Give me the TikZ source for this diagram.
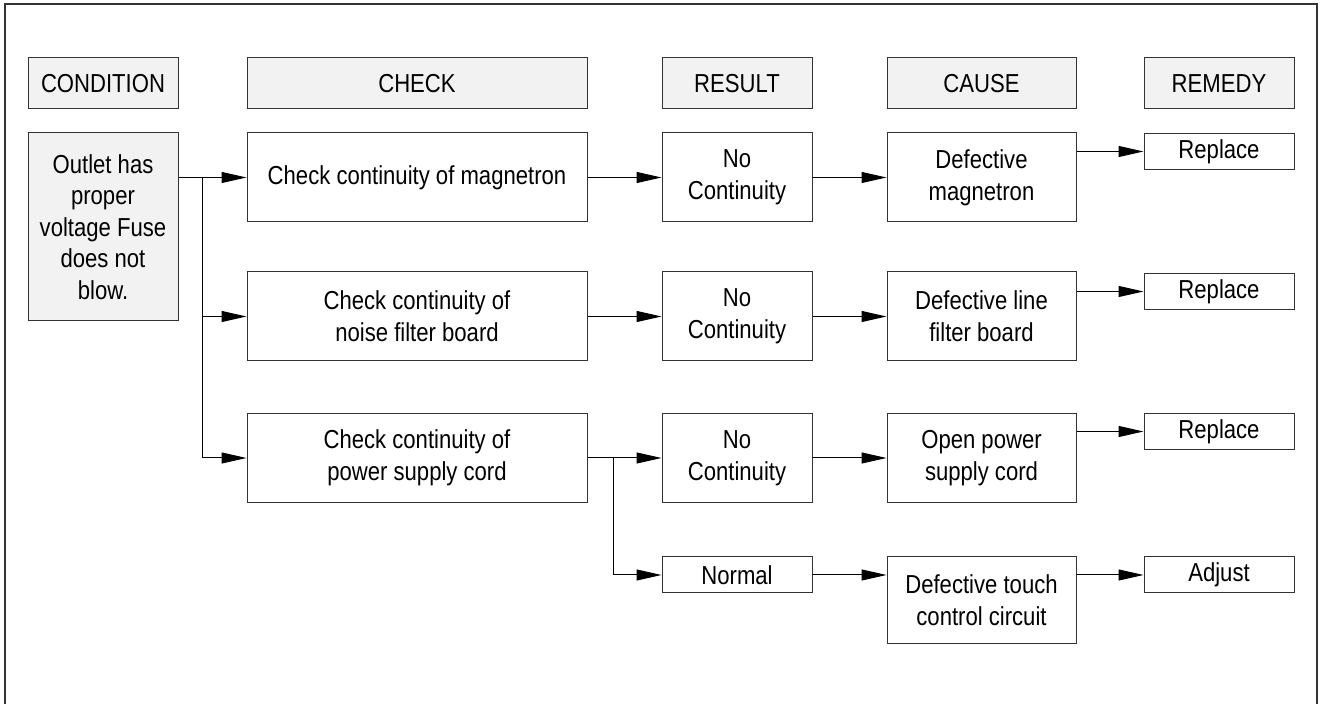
\documentclass[tikz,border=0pt]{standalone}
\usepackage{fontspec}
\setmainfont{Liberation Sans}[FakeStretch=0.85]
\usetikzlibrary{arrows.meta}
\definecolor{headgray}{HTML}{F2F2F2}
\definecolor{edgegray}{HTML}{333333}
\begin{document}
\begin{tikzpicture}[
    x=0.5pt, y=-0.5pt,
    font=\fontsize{13}{15.8}\selectfont,
    box/.style={rectangle, draw=edgegray, line width=0.5pt, inner sep=0pt, align=center, minimum height=44.5pt},
    head/.style={box, fill=headgray, minimum height=25.5pt},
    small/.style={box, minimum height=18pt},
    arrow/.style={-{Triangle[length=12.5pt, width=5.5pt]}, line width=0.5pt}
]
    \useasboundingbox (0,0) rectangle (1322,704);
    \draw[edgegray, line width=0.7pt] (5,704) |- (1317,4) -- (1317,704);

    % column headings
    \node [head, minimum width=75pt] (hcond) at (103,83.5) {CONDITION};
    \node [head, minimum width=170pt] (hcheck) at (417,83.5) {CHECK};
    \node [head, minimum width=75pt] (hres) at (737,83.5) {RESULT};
    \node [head, minimum width=94.5pt] (hcause) at (981.5,83.5) {CAUSE};
    \node [head, minimum width=75pt] (hrem) at (1219,83.5) {REMEDY};

    % condition
    \node [box, fill=headgray, minimum width=75pt, minimum height=94pt] (cond) at (103,227) {Outlet has\\proper\\voltage Fuse\\does not\\blow.};

    % checks
    \node [box, minimum width=170pt] (chk1) at (417,177.5) {Check continuity of magnetron};
    \node [box, minimum width=170pt] (chk2) at (417,316.5) {Check continuity of\\noise filter board};
    \node [box, minimum width=170pt] (chk3) at (417,458) {Check continuity of\\power supply cord};

    % results
    \node [box, minimum width=75pt] (res1) at (737,177.5) {No\\Continuity};
    \node [box, minimum width=75pt] (res2) at (737,316.5) {No\\Continuity};
    \node [box, minimum width=75pt] (res3) at (737,458) {No\\Continuity};
    \node [small, minimum width=75pt] (res4) at (737,575) {Normal};

    % causes
    \node [box, minimum width=94.5pt] (cause1) at (981.5,177.5) {Defective\\magnetron};
    \node [box, minimum width=94.5pt] (cause2) at (981.5,316.5) {Defective line\\filter board};
    \node [box, minimum width=94.5pt] (cause3) at (981.5,458) {Open power\\supply cord};
    \node [box, minimum width=94.5pt, minimum height=43.5pt] (cause4) at (981.5,600.5) {Defective touch\\control circuit};

    % remedies
    \node [small, minimum width=75pt] (rem1) at (1219,151.5) {Replace};
    \node [small, minimum width=75pt] (rem2) at (1219,291.5) {Replace};
    \node [small, minimum width=75pt] (rem3) at (1219,431.5) {Replace};
    \node [small, minimum width=75pt] (rem4) at (1219,575) {Adjust};

    \coordinate (split1) at (202,177.5);
    \coordinate (split2) at (613,458);

    \draw [arrow] (cond.east |- chk1.west) -- (chk1.west);
    \draw [line width=0.5pt] (split1) -- (split1 |- chk3.west);
    \draw [arrow] (split1 |- chk2.west) -- (chk2.west);
    \draw [arrow] (split1 |- chk3.west) -- (chk3.west);

    \draw [arrow] (chk1.east) -- (res1.west);
    \draw [arrow] (chk2.east) -- (res2.west);
    \draw [arrow] (chk3.east) -- (res3.west);
    \draw [arrow] (split2) |- (res4.west);

    \draw [arrow] (res1.east) -- (cause1.west);
    \draw [arrow] (res2.east) -- (cause2.west);
    \draw [arrow] (res3.east) -- (cause3.west);
    \draw [arrow] (res4.east) -- (res4.east -| cause4.west);

    \draw [arrow] (cause1.east |- rem1.west) -- (rem1.west);
    \draw [arrow] (cause2.east |- rem2.west) -- (rem2.west);
    \draw [arrow] (cause3.east |- rem3.west) -- (rem3.west);
    \draw [arrow] (cause4.east |- rem4.west) -- (rem4.west);
\end{tikzpicture}
\end{document}
